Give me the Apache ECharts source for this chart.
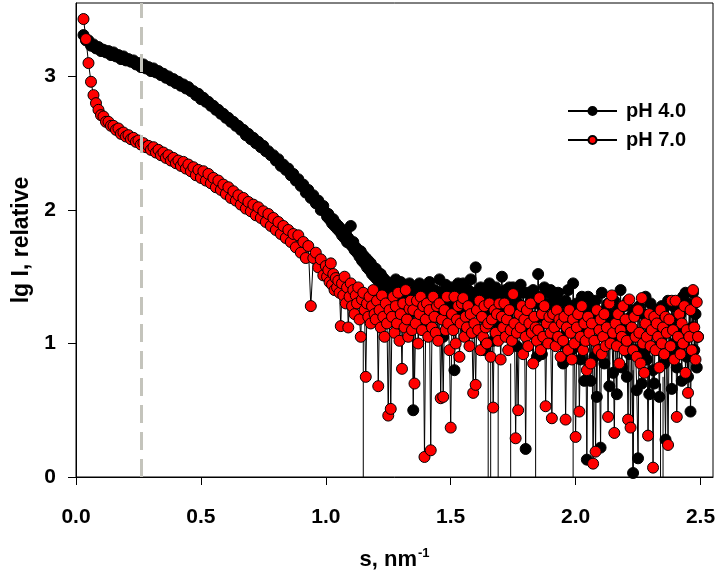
<!DOCTYPE html>
<html><head><meta charset="utf-8">
<script src="https://cdn.jsdelivr.net/npm/echarts@6/dist/echarts.min.js"></script>
<style>html,body{margin:0;padding:0;background:#fff}#c{width:720px;height:577px}</style>
</head><body><div id="c"></div>
<script>
// scattering vector s, nm^-1 (coarse part, then fine part)
const sLow = [
0.03,0.04,0.05,0.06,0.07,0.08,0.09,0.10,0.11,0.12,
0.13,0.14,0.15,0.16,0.17,0.18,0.19,0.20,0.21,0.22,
0.23,0.24,0.25,0.26,0.27,0.28,0.29,0.30,0.31,0.32,
0.33,0.34,0.35,0.36,0.37,0.38,0.39,0.40,0.41,0.42,
0.43,0.44,0.45,0.46,0.47,0.48,0.49,0.50,0.51,0.52,
0.53,0.54,0.55,0.56,0.57,0.58,0.59,0.60,0.61,0.62,
0.63,0.64,0.65,0.66,0.67,0.68,0.69,0.70,0.71,0.72,
0.73,0.74,0.75,0.76,0.77,0.78,0.79,0.80,0.81,0.82,
0.83,0.84,0.85,0.86,0.87,0.88,0.89,0.90,0.91,0.92,
0.93,0.94,0.95,0.96,0.97,0.98,0.99];
const sHigh = [
1.000,1.005,1.010,1.015,1.020,1.025,1.030,1.035,1.040,1.045,
1.050,1.055,1.060,1.065,1.070,1.075,1.080,1.085,1.090,1.095,
1.100,1.105,1.110,1.115,1.120,1.125,1.130,1.135,1.140,1.145,
1.150,1.155,1.160,1.165,1.170,1.175,1.180,1.185,1.190,1.195,
1.200,1.205,1.210,1.215,1.220,1.225,1.230,1.235,1.240,1.245,
1.250,1.255,1.260,1.265,1.270,1.275,1.280,1.285,1.290,1.295,
1.300,1.305,1.310,1.315,1.320,1.325,1.330,1.335,1.340,1.345,
1.350,1.355,1.360,1.365,1.370,1.375,1.380,1.385,1.390,1.395,
1.400,1.405,1.410,1.415,1.420,1.425,1.430,1.435,1.440,1.445,
1.450,1.455,1.460,1.465,1.470,1.475,1.480,1.485,1.490,1.495,
1.500,1.505,1.510,1.515,1.520,1.525,1.530,1.535,1.540,1.545,
1.550,1.555,1.560,1.565,1.570,1.575,1.580,1.585,1.590,1.595,
1.600,1.605,1.610,1.615,1.620,1.625,1.630,1.635,1.640,1.645,
1.650,1.655,1.660,1.665,1.670,1.675,1.680,1.685,1.690,1.695,
1.700,1.705,1.710,1.715,1.720,1.725,1.730,1.735,1.740,1.745,
1.750,1.755,1.760,1.765,1.770,1.775,1.780,1.785,1.790,1.795,
1.800,1.805,1.810,1.815,1.820,1.825,1.830,1.835,1.840,1.845,
1.850,1.855,1.860,1.865,1.870,1.875,1.880,1.885,1.890,1.895,
1.900,1.905,1.910,1.915,1.920,1.925,1.930,1.935,1.940,1.945,
1.950,1.955,1.960,1.965,1.970,1.975,1.980,1.985,1.990,1.995,
2.000,2.005,2.010,2.015,2.020,2.025,2.030,2.035,2.040,2.045,
2.050,2.055,2.060,2.065,2.070,2.075,2.080,2.085,2.090,2.095,
2.100,2.105,2.110,2.115,2.120,2.125,2.130,2.135,2.140,2.145,
2.150,2.155,2.160,2.165,2.170,2.175,2.180,2.185,2.190,2.195,
2.200,2.205,2.210,2.215,2.220,2.225,2.230,2.235,2.240,2.245,
2.250,2.255,2.260,2.265,2.270,2.275,2.280,2.285,2.290,2.295,
2.300,2.305,2.310,2.315,2.320,2.325,2.330,2.335,2.340,2.345,
2.350,2.355,2.360,2.365,2.370,2.375,2.380,2.385,2.390,2.395,
2.400,2.405,2.410,2.415,2.420,2.425,2.430,2.435,2.440,2.445,
2.450,2.455,2.460,2.465,2.470,2.475,2.480,2.485,2.490];

// lg I, pH 4.0
const ph4Low = [
3.31,3.27,3.27,3.23,3.24,3.21,3.22,3.19,3.20,3.18,
3.19,3.16,3.18,3.15,3.16,3.13,3.15,3.12,3.13,3.11,
3.12,3.09,3.10,3.07,3.09,3.06,3.07,3.04,3.06,3.03,
3.04,3.01,3.02,2.99,3.00,2.97,2.98,2.95,2.96,2.93,
2.94,2.91,2.92,2.89,2.89,2.86,2.87,2.83,2.84,2.81,
2.81,2.78,2.78,2.75,2.75,2.72,2.72,2.69,2.69,2.66,
2.66,2.63,2.63,2.60,2.60,2.56,2.57,2.53,2.54,2.50,
2.51,2.47,2.48,2.44,2.44,2.41,2.41,2.37,2.38,2.33,
2.34,2.30,2.31,2.26,2.27,2.22,2.23,2.18,2.19,2.13,
2.15,2.09,2.11,2.05,2.07,2.00,2.03];
const ph4High = [
1.98,1.95,1.97,1.93,1.94,1.90,1.93,1.88,1.90,1.86,
1.88,1.84,1.86,1.81,1.83,1.79,1.82,1.76,1.79,1.75,
1.88,1.73,1.76,1.70,1.72,1.68,1.70,1.65,1.69,1.62,
1.66,1.60,1.64,1.57,1.62,1.55,1.60,1.52,1.57,1.50,
1.56,1.48,1.53,1.46,1.52,1.44,1.49,1.40,1.47,1.38,
1.45,1.36,1.44,1.32,1.42,1.30,1.48,1.28,1.40,1.34,
1.46,1.25,1.38,1.30,1.42,1.22,1.36,1.45,1.28,1.33,
0.50,1.40,1.24,1.38,1.30,1.45,1.20,1.35,1.28,1.42,
1.18,1.40,1.30,1.46,1.12,1.35,1.25,1.40,1.32,1.20,
1.25,1.48,1.20,1.38,1.05,1.32,1.44,1.28,1.35,1.22,
1.28,1.42,1.15,0.80,1.36,1.25,1.45,1.18,1.30,1.40,
1.45,1.22,1.35,1.10,1.40,1.28,1.48,1.08,1.32,1.38,
1.57,1.25,1.35,1.10,1.42,1.20,1.30,0.95,1.38,1.25,
1.30,1.45,1.18,1.38,1.02,1.28,1.42,1.15,1.35,1.22,
1.36,1.50,1.22,1.10,1.40,1.32,1.18,1.42,1.28,1.05,
1.42,1.15,1.35,0.98,1.30,1.25,1.44,1.12,1.38,1.20,
0.21,1.25,1.38,1.15,1.32,1.08,1.40,1.20,1.30,0.90,
1.52,1.20,1.35,0.92,1.28,1.42,1.18,1.30,1.05,1.38,
1.40,1.12,1.28,1.35,1.05,1.22,1.38,1.15,1.30,1.00,
0.85,1.22,1.32,1.08,1.40,1.18,1.28,0.95,1.45,1.15,
1.18,1.30,0.98,1.25,0.88,1.35,1.12,0.72,1.28,0.13,
1.35,1.05,0.72,1.28,1.15,0.90,1.32,0.60,1.22,0.95,
0.22,1.38,1.10,0.85,1.25,1.15,1.30,0.68,1.20,1.05,
0.78,1.32,1.10,0.62,1.25,1.00,1.40,0.82,1.18,1.28,
1.10,0.75,1.32,0.92,1.20,1.08,0.03,1.25,0.95,0.65,
0.14,1.28,1.05,0.70,1.22,0.92,1.35,0.88,1.15,0.62,
1.30,1.12,0.80,0.70,1.25,0.95,1.20,0.60,1.05,1.28,
1.25,0.85,0.28,1.15,1.32,0.92,1.10,0.66,1.28,1.00,
1.18,0.82,1.30,0.95,1.22,0.72,1.35,1.10,1.38,0.90,
0.75,1.30,0.49,1.12,1.38,0.95,1.22,0.82,1.05];

// lg I, pH 7.0
const ph7Low = [
3.43,3.28,3.10,2.96,2.86,2.80,2.75,2.71,2.70,2.66,
2.66,2.63,2.63,2.60,2.61,2.57,2.58,2.55,2.56,2.53,
2.54,2.51,2.52,2.49,2.50,2.47,2.48,2.45,2.47,2.43,
2.45,2.41,2.43,2.39,2.41,2.37,2.39,2.35,2.37,2.33,
2.36,2.31,2.34,2.29,2.32,2.26,2.30,2.24,2.29,2.22,
2.27,2.20,2.24,2.17,2.22,2.15,2.19,2.12,2.17,2.09,
2.14,2.07,2.11,2.04,2.09,2.01,2.06,1.99,2.04,1.96,
2.02,1.94,1.99,1.91,1.97,1.88,1.94,1.85,1.91,1.82,
1.88,1.79,1.85,1.76,1.82,1.72,1.81,1.68,1.76,1.64,
1.73,1.28,1.64,1.68,1.57,1.63,1.51];
const ph7High = [
1.58,1.50,1.55,1.46,1.60,1.44,1.52,1.40,1.49,1.42,
1.47,1.38,1.13,1.45,1.36,1.50,1.30,1.42,1.12,1.35,
1.45,1.28,1.40,1.22,1.36,1.30,1.42,1.18,1.05,1.33,
1.38,1.25,0.75,1.30,1.20,1.35,1.15,1.28,1.40,1.22,
1.18,1.32,0.68,1.25,1.12,1.36,1.20,1.05,1.30,1.15,
0.46,1.25,0.51,1.20,1.35,1.08,1.28,1.15,1.38,1.02,
1.22,0.81,1.30,1.12,1.40,1.18,1.05,1.26,1.32,1.10,
1.25,0.70,1.15,1.32,1.00,1.22,1.35,1.10,1.28,0.15,
1.18,1.30,1.05,1.25,0.20,1.12,1.35,1.20,1.08,1.28,
1.02,1.30,0.59,1.18,0.60,1.25,1.10,1.35,1.15,0.95,
0.37,1.22,1.10,1.35,1.00,1.18,1.28,0.90,1.15,1.30,
1.34,1.05,1.20,1.12,1.28,0.98,1.22,1.08,0.63,1.15,
0.69,1.25,1.10,1.32,0.95,1.20,1.05,1.28,1.12,1.00,
1.15,1.30,0.90,1.18,0.52,1.25,1.08,1.22,1.02,1.30,
0.88,1.20,1.12,1.30,1.05,1.18,0.95,1.25,1.10,1.02,
1.37,1.15,0.29,1.08,0.50,1.22,1.12,1.28,0.92,1.18,
1.05,1.25,0.98,1.15,1.30,1.08,0.85,1.20,1.12,1.02,
1.10,1.34,0.95,1.22,1.05,1.28,0.53,1.15,1.00,1.20,
1.08,0.44,1.22,1.12,0.98,1.25,1.05,1.18,0.90,1.15,
1.02,1.20,0.43,1.12,0.95,1.25,1.08,0.88,1.18,1.00,
0.30,1.12,1.22,0.49,1.05,1.28,0.95,1.15,1.02,0.80,
1.20,1.08,0.85,1.15,0.10,1.02,0.19,1.25,0.95,1.10,
1.18,0.92,1.05,1.22,0.98,1.12,0.45,1.30,1.00,1.36,
1.08,0.33,1.15,0.98,1.22,0.85,1.10,1.05,1.28,0.95,
1.18,1.02,0.43,1.33,0.37,1.12,0.95,1.20,1.05,0.90,
1.25,1.08,0.85,1.34,1.00,0.78,1.15,1.05,0.31,1.22,
0.98,1.10,0.07,1.20,0.95,1.15,1.05,0.82,1.25,1.00,
1.12,0.92,1.20,1.08,0.24,1.18,0.98,1.32,1.10,0.88,
1.32,0.45,1.05,1.22,0.92,1.15,1.00,1.28,0.78,1.10,
0.63,1.05,1.25,0.95,1.40,1.12,0.88,1.31,1.05];

// long error bars visible in the picture
const errS  = [1.15,1.65,1.66,1.69,1.74,1.84,1.85,1.99,2.23,2.34,2.35];
const errLo = [0.00,0.00,0.00,0.00,0.00,0.00,1.10,0.00,0.00,0.00,0.00];
const errHi = [1.05,1.00,0.95,0.90,0.85,1.00,1.55,0.90,0.80,0.70,0.75];

const seriesNames = ['pH 4.0','pH 7.0'];
const xTicks = [0,0.5,1,1.5,2,2.5];
const yTicks = [0,1,2,3];
const dashS = 0.26;

const s = sLow.concat(sHigh);
const ph4 = ph4Low.concat(ph4High);
const ph7 = ph7Low.concat(ph7High);

const font = '"Liberation Sans", Arial, Helvetica, sans-serif';
const chart = echarts.init(document.getElementById('c'), null, {renderer:'canvas'});

const pts = ys => s.map((x,i)=>[x, ys[i]]);
const errData = errS.map((x,i)=>[x, errLo[i], errHi[i]]);

const lineSeries = (name, ys, fill, extra) => Object.assign({
  type:'line', name, data: pts(ys),
  symbol:'circle', symbolSize:11, showSymbol:true, showAllSymbol:true,
  itemStyle:{color:fill, borderColor:'#000', borderWidth:1},
  lineStyle:{color:'#000', width:1},
  emphasis:{disabled:true}, clip:true
}, extra||{});

chart.setOption({
  animation:false,
  backgroundColor:'#fff',
  grid:{left:76, right:7, top:3, bottom:100, show:true, borderColor:'#000', borderWidth:1, backgroundColor:'transparent'},
  legend:{
    orient:'vertical', left:562, top:96, itemWidth:49, itemHeight:10, itemGap:9,
    data:seriesNames,
    textStyle:{fontFamily:font, fontWeight:'bold', fontSize:20, color:'#000', padding:[0,0,0,4]}
  },
  xAxis:{
    type:'value', min:0, max:2.55,
    axisLine:{show:true, onZero:false, lineStyle:{color:'#000', width:1}},
    axisTick:{show:true, inside:false, length:8, customValues:xTicks, lineStyle:{color:'#000', width:1}},
    axisLabel:{customValues:xTicks, formatter:v=>v.toFixed(1), margin:30,
      fontFamily:font, fontWeight:'bold', fontSize:21, color:'#000'},
    splitLine:{show:false},
    name:'{a|s, nm}{b|-1}', nameLocation:'middle', nameGap:70,
    nameTextStyle:{rich:{
      a:{fontFamily:font, fontWeight:'bold', fontSize:22, color:'#000'},
      b:{fontFamily:font, fontWeight:'bold', fontSize:13, color:'#000', padding:[0,0,12,1]}
    }}
  },
  yAxis:{
    type:'value', min:0, max:3.55,
    axisLine:{show:true, onZero:false, lineStyle:{color:'#000', width:1}},
    axisTick:{show:true, inside:false, length:8, customValues:yTicks, lineStyle:{color:'#000', width:1}},
    axisLabel:{customValues:yTicks, formatter:v=>String(v), margin:20,
      fontFamily:font, fontWeight:'bold', fontSize:21, color:'#000'},
    splitLine:{show:false},
    name:'lg I, relative', nameLocation:'middle', nameGap:42, nameRotate:90,
    nameTextStyle:{fontFamily:font, fontWeight:'bold', fontSize:23, color:'#000'}
  },
  series:[
    {
      type:'custom', name:'err', data:errData, z:1, clip:true, silent:true,
      encode:{x:0, y:[1,2]},
      renderItem:(params, api)=>{
        const a = api.coord([api.value(0), api.value(1)]);
        const b = api.coord([api.value(0), api.value(2)]);
        return {type:'line', shape:{x1:a[0], y1:a[1], x2:b[0], y2:b[1]},
          style:{stroke:'#000', lineWidth:1}};
      }
    },
    lineSeries(seriesNames[0], ph4, '#000'),
    lineSeries(seriesNames[1], ph7, '#ff0000', {
      markLine:{
        silent:true, symbol:['none','none'], label:{show:false},
        lineStyle:{color:'#c4c4bc', width:3, type:[18,9]},
        data:[{xAxis:dashS}], z:10
      }
    })
  ]
});
</script>
</body></html>
